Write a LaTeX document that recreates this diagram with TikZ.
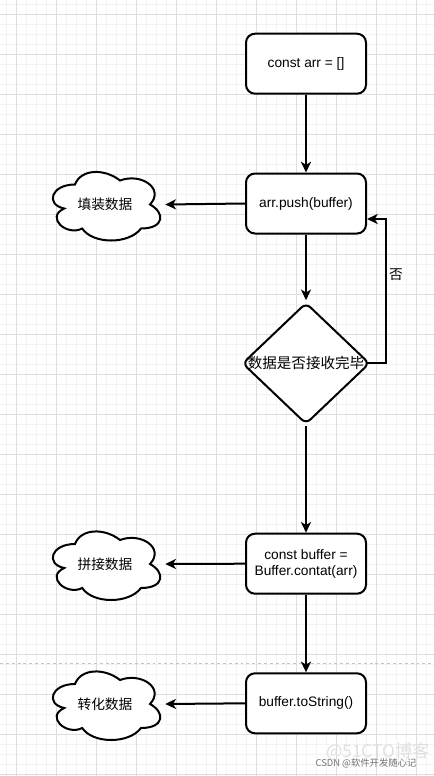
\documentclass[tikz,border=0pt]{standalone}
\usepackage{fontspec}
\setmainfont{Liberation Sans}
\newfontfamily\cjk{Noto Sans CJK SC}
\usetikzlibrary{arrows.meta,calc}
\definecolor{gridmajor}{HTML}{DEDEDE}
\definecolor{gridminor}{HTML}{F3F3F3}
\definecolor{pagebreak}{HTML}{C4C4C4}
\newcommand\cloudshape[2]{%
  \draw[cloudline,shift={(#1,#2)}] (30,20) .. controls (6,20) and (0,40) .. (19.2,44)
    .. controls (0,52.8) and (21.6,72) .. (37.2,64)
    .. controls (48,80) and (84,80) .. (96,64)
    .. controls (120,64) and (120,48) .. (105,40)
    .. controls (120,24) and (96,8) .. (75,16)
    .. controls (60,4) and (36,4) .. (30,20) -- cycle;}
\begin{document}
\begin{tikzpicture}[x=0.75pt,y=-0.75pt,
  box/.style={draw,line width=1.5pt,rounded corners=6.75pt,fill=white,minimum width=90pt,minimum height=45pt,align=center,inner sep=0pt,font=\fontsize{10.3pt}{12pt}\selectfont},
  arr/.style={line width=1.5pt,-{Stealth[length=8pt,width=7.5pt,inset=2.2pt]}},
  cloudlbl/.style={minimum width=90pt,minimum height=60pt,inner sep=0pt,font=\cjk\fontsize{10.3pt}{12pt}\selectfont},
  cloudline/.style={draw,line width=1.5pt,fill=white},
  gridmin/.style={gridminor,line width=0.75pt},
  gridmaj/.style={gridmajor,line width=0.75pt},
]
\useasboundingbox (0,0) rectangle (434,776);
\fill[white] (0,0) rectangle (434,776);
% grid
\foreach \i in {0,...,43} {\draw[gridmin] (6.5+10*\i,0) -- (6.5+10*\i,776);}
\foreach \j in {0,...,77} {\draw[gridmin] (0,4+10*\j) -- (434,4+10*\j);}
\foreach \i in {0,...,10} {\draw[gridmaj] (16.5+40*\i,0) -- (16.5+40*\i,776);}
\foreach \j in {0,...,19} {\draw[gridmaj] (0,14+40*\j) -- (434,14+40*\j);}
% page break line
\draw[pagebreak,line width=0.75pt,dash pattern=on 2.2pt off 2.2pt] (0,663.5) -- (434,663.5);

% boxes
\node[box] (b1) at (306,63.7) {const arr = []};
\node[box] (b2) at (306,203.5) {arr.push(buffer)};
\node[box] (b3) at (306,563.7) {const buffer =\\Buffer.contat(arr)};
\node[box] (b4) at (306,703.3) {buffer.toString()};

% diamond
\node[minimum width=94.5pt,minimum height=90pt,inner sep=0pt] (d) at (306,363.4) {};
\draw[line width=1.5pt,fill=white,rounded corners=4.5pt]
  ($(d.north)!0.5!(d.east)$) -- (d.east) -- (d.south) -- (d.west) -- (d.north) -- cycle;
\node[font=\cjk\fontsize{10.9pt}{12pt}\selectfont,inner sep=0pt] (dt) at (d.center) {数据是否接收完毕};

% clouds
\cloudshape{45}{164.5}
\node[cloudlbl] (c1) at (105,204.5) {填装数据};
\cloudshape{45}{524}
\node[cloudlbl] (c2) at (105,564) {拼接数据};
\cloudshape{45}{664}
\node[cloudlbl] (c3) at (105,704) {转化数据};

% connectors
\draw[arr] (b1.south) -- (b2.north);
\draw[arr,shorten >=2.2pt] (b2.south) -- (d.north);
\draw[arr] ([yshift=-1.8pt]d.south) -- (b3.north);
\draw[arr] (b3.south) -- (b4.north);
\draw[arr] (b2.west) -- (c1.east);
\draw[arr] (b3.west) -- (c2.east);
\draw[arr] (b4.west) -- (c3.east);
\coordinate (lp) at (386,219);
\draw[arr] ([xshift=-1.8pt]d.east) -| (lp) -- (b2.east |- lp);
\node[font=\cjk\fontsize{10.3pt}{12pt}\selectfont,inner sep=0pt] (no) at (396,275) {否};

% watermark
\node[font=\cjk\fontsize{13pt}{14pt}\selectfont,text=black!12,inner sep=0pt] (wm1) at (378,752) {@51CTO博客};
\node[font=\cjk\fontsize{7pt}{8pt}\selectfont,text=black!55,inner sep=0pt] (wm2) at (366,763) {CSDN @软件开发随心记};
\end{tikzpicture}
\end{document}
